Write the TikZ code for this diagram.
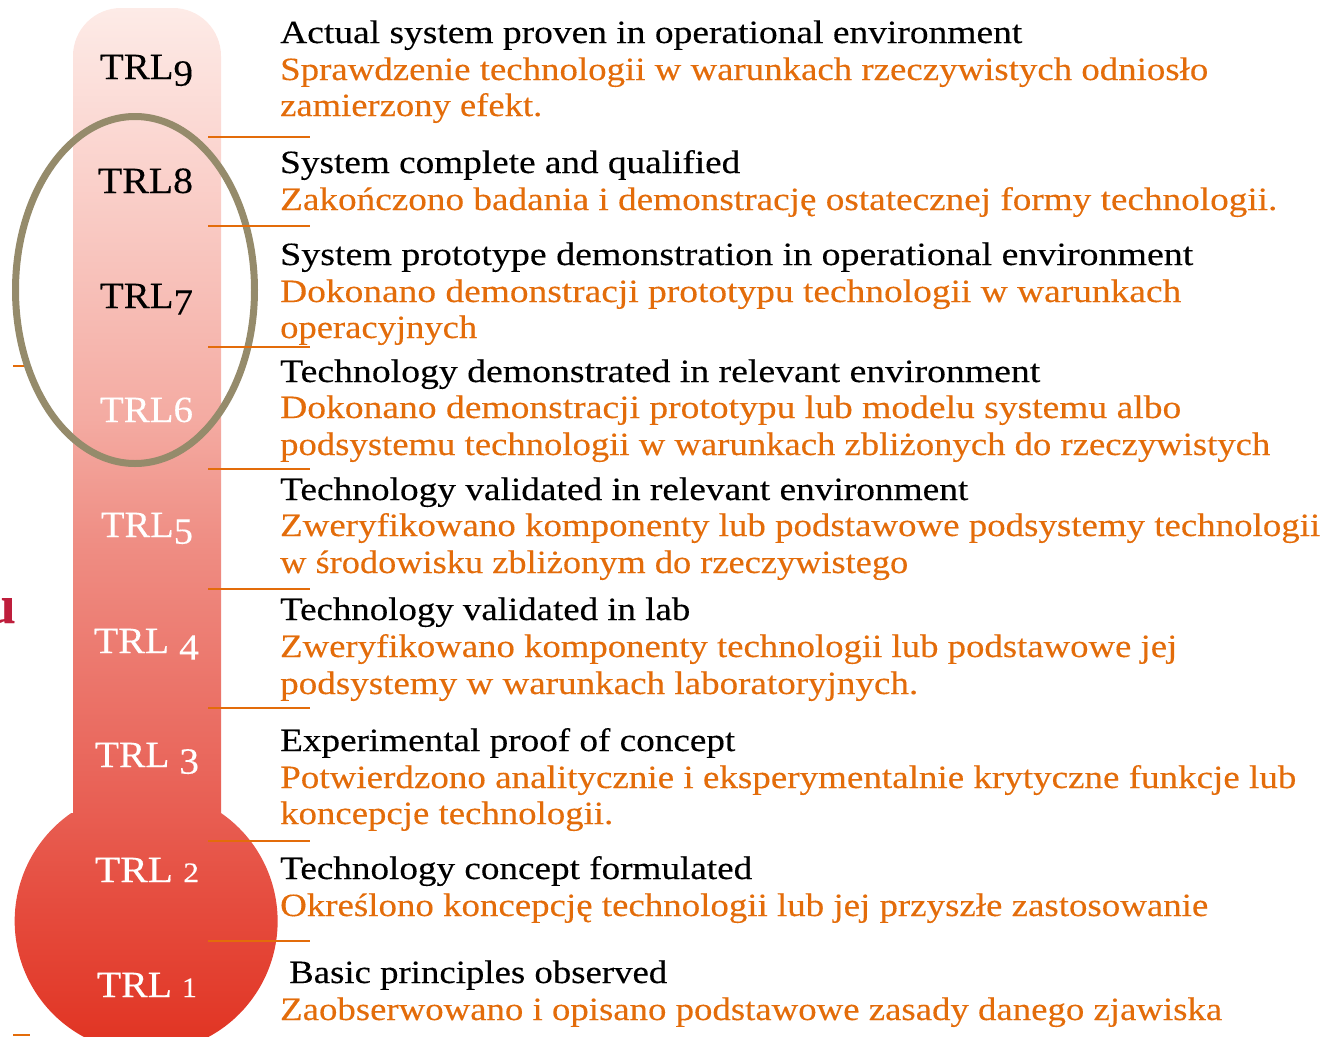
\documentclass[tikz,border=0pt]{standalone}
\usepackage{fontspec}
\setmainfont{Liberation Serif}[FakeBold=0.25]
\usepackage{graphicx}
\definecolor{orng}{HTML}{E36C0A}
\definecolor{olivering}{HTML}{958B6B}
\definecolor{fragred}{HTML}{BE1E3C}
\definecolor{tA}{HTML}{E0301E}
\definecolor{tB}{HTML}{E54A3C}
\definecolor{tC}{HTML}{E9655A}
\definecolor{tD}{HTML}{EF8E84}
\definecolor{tE}{HTML}{F4ABA2}
\definecolor{tF}{HTML}{FAD0CA}
\definecolor{tG}{HTML}{FDEBE7}
\pgfdeclareverticalshading{thermo}{100bp}{color(0bp)=(tA); color(25bp)=(tA); color(32.3bp)=(tB); color(39bp)=(tC); color(50bp)=(tD); color(55.7bp)=(tE); color(66.8bp)=(tF); color(75bp)=(tG); color(100bp)=(tG)}
\newlength\fitw
\newcommand\fitline[2]{\settowidth\fitw{#2}\pgfmathsetmacro\fitr{#1/\fitw}\scalebox{\fitr}[1]{#2}}
\newcommand\osdd[1]{\raisebox{-0.18em}{#1}}
\newcommand\osdx[1]{\scalebox{0.76}{#1}}
\begin{document}
\begin{tikzpicture}[x=1pt,y=-1pt,
  txt/.style={anchor=base west, inner sep=0pt, font=\fontsize{32.5}{36}\selectfont},
  eng/.style={txt, text=black},
  pl/.style={txt, text=orng},
  lbl/.style={anchor=base, inner sep=0pt, font=\fontsize{37}{40}\selectfont},
  sepline/.style={draw=orng, line width=2pt},
  ring/.style={draw=olivering, line width=7pt}]
\useasboundingbox (0,0) rectangle (1333,1036);
% thermometer
\shade[shading=thermo] (73,813) -- (73,56) [rounded corners=48] -- (73,8) -- (221,8) [sharp corners] -- (221,56) -- (221,813)
  arc[start angle=-55.3, end angle=235.3, radius=131.5] -- cycle;
% labels
\node[lbl, text=black] (l9) at (146.5,79) {\fitline{93}{TRL\osdd{9}}};
\node[lbl, text=black] (l8) at (145.5,193) {\fitline{95}{TRL8}};
\node[lbl, text=black] (l7) at (146.5,308) {\fitline{93}{TRL\osdd{7}}};
\node[lbl, text=white] (l6) at (146.5,422) {\fitline{93}{TRL6}};
\node[lbl, text=white] (l5) at (147,537) {\fitline{92}{TRL\osdd{5}}};
\node[lbl, text=white] (l4) at (146.5,653) {\fitline{105}{TRL \osdd{4}}};
\node[lbl, text=white] (l3) at (147,767) {\fitline{104}{TRL \osdd{3}}};
\node[lbl, text=white] (l2) at (147,882) {\fitline{104}{TRL \osdx{2}}};
\node[lbl, text=white] (l1) at (147,997) {\fitline{100}{TRL \osdx{1}}};
% ring
\draw[ring] (135,290) ellipse[x radius=119.5, y radius=173.5];
% separators
\foreach \yy in {137,226,347,469,589,708,841,941} \draw[sepline] (208,\yy) -- (310,\yy);
\draw[sepline] (13,366) -- (24,366);
\draw[sepline] (13,1035) -- (30,1035);
\node[anchor=base east, inner sep=0pt, text=fragred, font=\fontsize{54}{54}\selectfont\bfseries] (frag) at (16,623) {u};
% texts
\node[eng] (t9a) at (280,43) {\fitline{742}{Actual system proven in operational environment}};
\node[pl] (t9b) at (280,80) {\fitline{928}{Sprawdzenie technologii w warunkach rzeczywistych odniosło}};
\node[pl] (t9c) at (280,116) {\fitline{262}{zamierzony efekt.}};
\node[eng] (t8a) at (280,173) {\fitline{460}{System complete and qualified}};
\node[pl] (t8b) at (280,210) {\fitline{997}{Zakończono badania i demonstrację ostatecznej formy technologii.}};
\node[eng] (t7a) at (280,265) {\fitline{913}{System prototype demonstration in operational environment}};
\node[pl] (t7b) at (280,302) {\fitline{901}{Dokonano demonstracji prototypu technologii w warunkach}};
\node[pl] (t7c) at (280,338) {\fitline{197}{operacyjnych}};
\node[eng] (t6a) at (280,382) {\fitline{760}{Technology demonstrated in relevant environment}};
\node[pl] (t6b) at (280,418) {\fitline{901}{Dokonano demonstracji prototypu lub modelu systemu albo}};
\node[pl] (t6c) at (280,455) {\fitline{990}{podsystemu technologii w warunkach zbliżonych do rzeczywistych}};
\node[eng] (t5a) at (280,500) {\fitline{688}{Technology validated in relevant environment}};
\node[pl] (t5b) at (280,536) {\fitline{1040}{Zweryfikowano komponenty lub podstawowe podsystemy technologii}};
\node[pl] (t5c) at (280,573) {\fitline{628}{w środowisku zbliżonym do rzeczywistego}};
\node[eng] (t4a) at (280,620) {\fitline{410}{Technology validated in lab}};
\node[pl] (t4b) at (280,657) {\fitline{897}{Zweryfikowano komponenty technologii lub podstawowe jej}};
\node[pl] (t4c) at (280,694) {\fitline{638}{podsystemy w warunkach laboratoryjnych.}};
\node[eng] (t3a) at (280,751) {\fitline{455}{Experimental proof of concept}};
\node[pl] (t3b) at (280,788) {\fitline{1016}{Potwierdzono analitycznie i eksperymentalnie krytyczne funkcje lub}};
\node[pl] (t3c) at (280,824) {\fitline{333}{koncepcje technologii.}};
\node[eng] (t2a) at (280,879) {\fitline{472}{Technology concept formulated}};
\node[pl] (t2b) at (280,916) {\fitline{928}{Określono koncepcję technologii lub jej przyszłe zastosowanie}};
\node[eng] (t1a) at (289,983) {\fitline{378}{Basic principles observed}};
\node[pl] (t1b) at (280,1020) {\fitline{942}{Zaobserwowano i opisano podstawowe zasady danego zjawiska}};
\end{tikzpicture}
\end{document}
